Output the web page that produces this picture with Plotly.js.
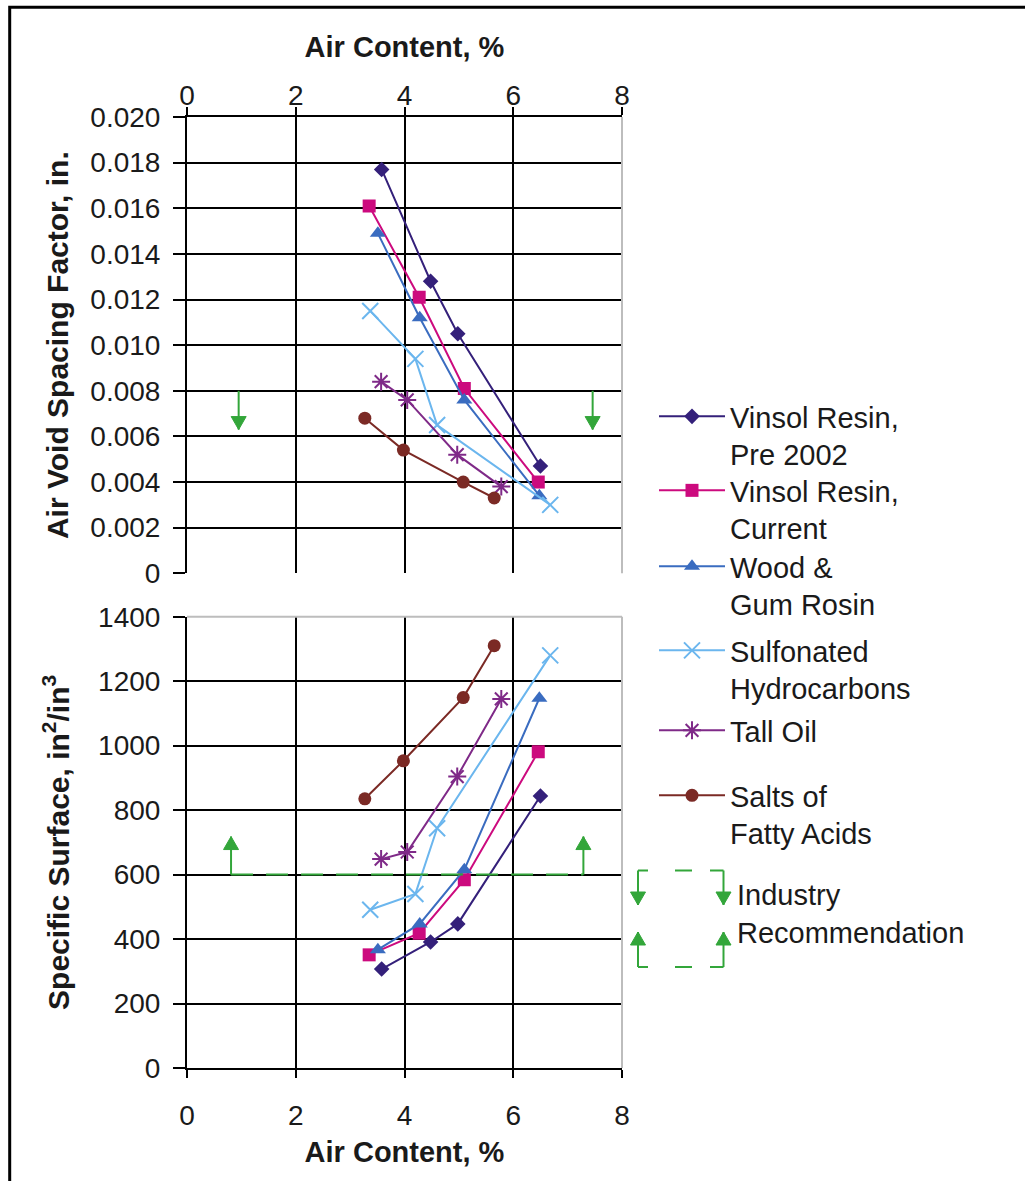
<!DOCTYPE html>
<html>
<head>
<meta charset="utf-8">
<script src="https://cdn.plot.ly/plotly-3.0.1.min.js"></script>
<style>
html,body{margin:0;padding:0;background:#fff;}
#chart{width:1025px;height:1181px;}
</style>
</head>
<body>
<div id="chart"></div>
<script>
// ---- data ----
const seriesNames = [
  "Vinsol Resin,<br>Pre 2002",
  "Vinsol Resin,<br>Current",
  "Wood &amp;<br>Gum Rosin",
  "Sulfonated<br>Hydrocarbons",
  "Tall Oil",
  "Salts of<br>Fatty Acids"
];
const airVinsolPre   = [3.58, 4.48, 4.98, 6.50];
const airVinsolCur   = [3.35, 4.27, 5.10, 6.46];
const airWood        = [3.51, 4.28, 5.10, 6.48];
const airSulfonated  = [3.37, 4.20, 4.60, 6.68];
const airTallOil     = [3.57, 4.05, 4.97, 5.78];
const airSalts       = [3.27, 3.98, 5.08, 5.65];

const sfVinsolPre    = [0.0177, 0.0128, 0.0105, 0.0047];
const sfVinsolCur    = [0.0161, 0.0121, 0.0081, 0.0040];
const sfWood         = [0.0149, 0.0112, 0.0076, 0.0034];
const sfSulfonated   = [0.0115, 0.0094, 0.0065, 0.0030];
const sfTallOil      = [0.0084, 0.0076, 0.0052, 0.0038];
const sfSalts        = [0.0068, 0.0054, 0.0040, 0.0033];

const ssVinsolPre    = [307, 391, 447, 844];
const ssVinsolCur    = [351, 418, 584, 981];
const ssWood         = [367, 447, 615, 1147];
const ssSulfonated   = [491, 540, 744, 1280];
const ssTallOil      = [648, 670, 904, 1145];
const ssSalts        = [835, 953, 1149, 1310];

const spacingLimit   = 0.008;   // industry recommendation, max spacing factor
const spacingArrowTo = 0.0063;
const spacingArrowX  = [0.95, 7.46];
const surfaceLimit   = 600;     // industry recommendation, min specific surface
const surfaceArrowTo = 718;
const surfaceLineX   = [0.81, 7.29];

const xTicks = [0, 2, 4, 6, 8];
const spacingTicks = [0, 0.002, 0.004, 0.006, 0.008, 0.010, 0.012, 0.014, 0.016, 0.018, 0.020];
const spacingTickText = ["0", "0.002", "0.004", "0.006", "0.008", "0.010", "0.012", "0.014", "0.016", "0.018", "0.020"];

// ---- styles ----
const colors  = ["#34207a", "#cc0a7e", "#3a6cc0", "#6bb6ee", "#7f2a88", "#7b2a25"];
const symbols = ["diamond", "square", "triangle-up", "x-thin", "asterisk", "circle"];
const sizes   = [12, 13, 14, 16, 15, 13];
const green = "#33a63a";
const FONT = "Liberation Sans, Arial, sans-serif";

const airs = [airVinsolPre, airVinsolCur, airWood, airSulfonated, airTallOil, airSalts];
const sfs  = [sfVinsolPre, sfVinsolCur, sfWood, sfSulfonated, sfTallOil, sfSalts];
const sss  = [ssVinsolPre, ssVinsolCur, ssWood, ssSulfonated, ssTallOil, ssSalts];

function marker(i) {
  const m = {symbol: symbols[i], size: sizes[i], color: colors[i]};
  if (symbols[i] === "x-thin" || symbols[i] === "asterisk") {
    m.line = {color: colors[i], width: 2};
  } else {
    m.line = {width: 0};
  }
  return m;
}

const traces = [];
for (let i = 0; i < 6; i++) {
  traces.push({
    x: airs[i], y: sfs[i], xaxis: "x2", yaxis: "y2",
    type: "scatter", mode: "lines+markers",
    name: seriesNames[i],
    line: {color: colors[i], width: 2},
    marker: marker(i),
    showlegend: true,
    legend: i === 0 ? "legend" : "legend" + (i + 1)
  });
}
for (let i = 0; i < 6; i++) {
  traces.push({
    x: airs[i], y: sss[i], xaxis: "x", yaxis: "y",
    type: "scatter", mode: "lines+markers",
    name: seriesNames[i],
    line: {color: colors[i], width: 2},
    marker: marker(i),
    showlegend: false
  });
}
// industry recommendation dashed line (specific surface)
traces.push({
  x: surfaceLineX, y: [surfaceLimit, surfaceLimit], xaxis: "x", yaxis: "y",
  type: "scatter", mode: "lines",
  line: {color: green, width: 2, dash: "22px,13px"},
  showlegend: false, hoverinfo: "skip"
});

// ---- geometry (px) ----
const W = 1025, H = 1181;
const L = 187, R = 622, T = 117, B = 1068;
const pw = R - L, ph = B - T;
const px = v => (v - L) / pw;
const py = v => (B - v) / ph;

const topDomain = [py(573.3), 1];
const botDomain = [0, py(616.7)];

const tickFont = {family: FONT, size: 28, color: "#1a1a1a"};
const xTitleFont = {family: FONT, size: 29, color: "#1a1a1a", weight: "bold"};
const yTitleFont = {family: FONT, size: 30, color: "#1a1a1a", weight: "bold"};

const axisCommon = {
  showgrid: true, gridcolor: "#000", gridwidth: 2,
  showline: true, linecolor: "#000", linewidth: 2,
  ticks: "outside", tickcolor: "#000", tickwidth: 2,
  zeroline: false, tickfont: tickFont, fixedrange: true
};

// legends: one per series so each sits where the reference puts it
const legendFirstLine = [417, 491, 567, 651, 731, 796];
const legendOffset = 26;
const legends = {};
for (let i = 0; i < 6; i++) {
  const key = i === 0 ? "legend" : "legend" + (i + 1);
  legends[key] = {
    x: px(654), xanchor: "left",
    y: py(legendFirstLine[i] - legendOffset), yanchor: "top",
    font: {family: FONT, size: 29, color: "#1a1a1a"},
    bgcolor: "rgba(0,0,0,0)", borderwidth: 0,
    itemwidth: 66, valign: "top", tracegroupgap: 0
  };
}

// arrow helpers: shaft line + filled head drawn as shapes
function arrow(xr, yr, xv, yFrom, yTip, dir) {
  // dir = -1 pointing down, +1 pointing up (pixel-sized head)
  const h = 13, w = 7.5;
  return [
    {type: "line", xref: xr, yref: yr, x0: xv, x1: xv, y0: yFrom, y1: yTip,
     line: {color: green, width: 2}},
    {type: "path", xref: xr, yref: yr, xsizemode: "pixel", ysizemode: "pixel",
     xanchor: xv, yanchor: yTip,
     path: "M " + (-w) + " " + (-dir * h) + " L " + w + " " + (-dir * h) + " L 0 0 Z",
     fillcolor: green, line: {color: green, width: 1}}
  ];
}

let shapes = [
  // outer frame
  {type: "rect", xref: "paper", yref: "paper", x0: px(9.7), x1: px(1040), y0: py(1200), y1: py(7.2),
   line: {color: "#000", width: 3}, layer: "below"},
  // top plot right edge
  {type: "line", xref: "paper", yref: "paper", x0: 1, x1: 1, y0: topDomain[0], y1: topDomain[1],
   line: {color: "#bdbdbd", width: 2}, layer: "above"},
  // bottom plot right and top edges
  {type: "line", xref: "paper", yref: "paper", x0: 1, x1: 1, y0: botDomain[0], y1: botDomain[1],
   line: {color: "#bdbdbd", width: 2}, layer: "above"},
  {type: "line", xref: "paper", yref: "paper", x0: 0, x1: 1, y0: botDomain[1], y1: botDomain[1],
   line: {color: "#bdbdbd", width: 2}, layer: "above"},
  // legend glyph: dashed box top & bottom
  {type: "line", xref: "paper", yref: "paper", x0: px(638), x1: px(723.5), y0: py(870.5), y1: py(870.5),
   line: {color: green, width: 2, dash: "10px,27px,17px,18px,14px"}},
  {type: "line", xref: "paper", yref: "paper", x0: px(638), x1: px(723.5), y0: py(967), y1: py(967),
   line: {color: green, width: 2, dash: "10px,27px,17px,18px,14px"}}
];
shapes = shapes
  .concat(arrow("x2", "y2", spacingArrowX[0], spacingLimit, spacingArrowTo, -1))
  .concat(arrow("x2", "y2", spacingArrowX[1], spacingLimit, spacingArrowTo, -1))
  .concat(arrow("x", "y", surfaceLineX[0], surfaceLimit, surfaceArrowTo, 1))
  .concat(arrow("x", "y", surfaceLineX[1], surfaceLimit, surfaceArrowTo, 1))
  .concat(arrow("paper", "paper", px(638), py(870.5), py(905), -1))
  .concat(arrow("paper", "paper", px(723.5), py(870.5), py(905), -1))
  .concat(arrow("paper", "paper", px(638), py(967), py(932), 1))
  .concat(arrow("paper", "paper", px(723.5), py(967), py(932), 1));

const annotations = [
  {x: px(735), y: py(914), xref: "paper", yref: "paper", xanchor: "left", yanchor: "middle",
   align: "left", showarrow: false, text: "Industry<br>Recommendation",
   font: {family: FONT, size: 29, color: "#1a1a1a"}}
];

const layout = Object.assign({
  width: W, height: H,
  margin: {l: L, r: W - R, t: T, b: H - B, pad: 0},
  paper_bgcolor: "#fff", plot_bgcolor: "#fff",
  font: {family: FONT, color: "#1a1a1a"},
  showlegend: true,
  xaxis: Object.assign({}, axisCommon, {
    anchor: "y", domain: [0, 1], range: [0, 8], tickvals: xTicks, ticklen: 8,
    ticklabelstandoff: 13,
    title: {text: "Air Content, %", font: xTitleFont, standoff: 12}
  }),
  yaxis: Object.assign({}, axisCommon, {
    anchor: "x", domain: botDomain, range: [0, 1400], dtick: 200, ticklen: 12,
    ticklabelstandoff: 7,
    title: {text: "Specific Surface, in<sup>2</sup>/in<sup>3</sup>", font: yTitleFont, standoff: 20}
  }),
  xaxis2: Object.assign({}, axisCommon, {
    anchor: "y2", side: "top", domain: [0, 1], range: [0, 8], tickvals: xTicks, ticklen: 8,
    ticklabelstandoff: -9,
    title: {text: "Air Content, %", font: xTitleFont, standoff: 14}
  }),
  yaxis2: Object.assign({}, axisCommon, {
    anchor: "x2", domain: topDomain, range: [0, 0.020], tickvals: spacingTicks, ticktext: spacingTickText,
    ticklen: 12, ticklabelstandoff: 7,
    title: {text: "Air Void Spacing Factor, in.", font: yTitleFont, standoff: 13}
  }),
  shapes: shapes,
  annotations: annotations
}, legends);

Plotly.newPlot("chart", traces, layout, {displayModeBar: false, staticPlot: true});
</script>
</body>
</html>
